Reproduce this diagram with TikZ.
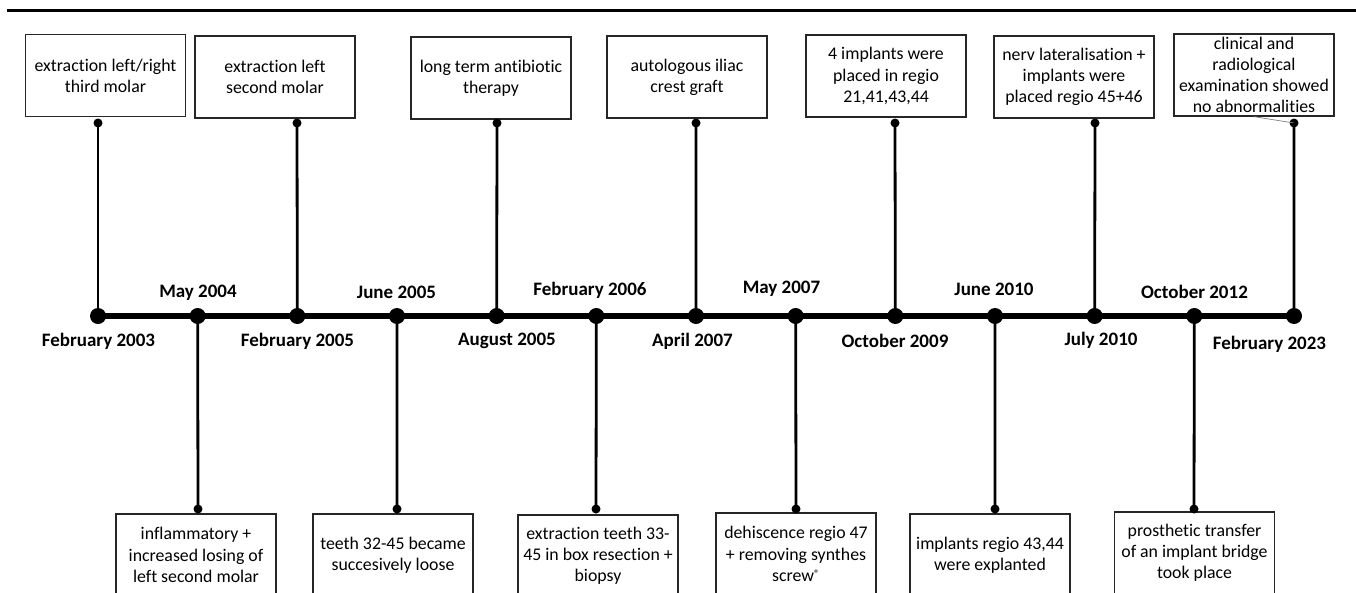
\documentclass[tikz,border=0pt]{standalone}
\usepackage{fontspec}
\setmainfont[Ligatures={NoCommon}]{Carlito}
\begin{document}
\begin{tikzpicture}[x=1pt,y=-1pt,
  evbox/.style={draw=black!85, line width=1.3pt, minimum width=160pt, minimum height=82pt, align=center, inner sep=2pt, font=\fontsize{17.8}{21.2}\selectfont},
  datelbl/.style={font=\fontsize{19}{22}\selectfont\bfseries, inner sep=0pt},
  bigdot/.style={circle, fill=black, inner sep=0pt, minimum size=16pt},
  smalldot/.style={circle, fill=black, inner sep=0pt, minimum size=9pt},
  tline/.style={line width=5.5pt},
  vline/.style={line width=2.8pt}]
\useasboundingbox (0,0) rectangle (1356,592);
\clip (0,0) rectangle (1356,592);
\fill[white] (0,0) rectangle (1356,592);
% top rule
\coordinate (r1) at (7,10.7);
\coordinate (r2) at (1356,10.7);
\draw[line width=3.3pt] (r1) -- (r2);
% timeline dots
\foreach \i in {1,...,13} {
  \node[bigdot] (t\i) at ({98+(\i-1)*99.667},316) {};
}
\draw[tline] (t1.center) -- (t13.center);
% top boxes
\node[evbox] (b1) at (105.5,75.5) {extraction left/right\\third molar};
\node[evbox] (b2) at (275,77) {extraction left\\second molar};
\node[evbox] (b3) at (491,78) {long term antibiotic\\therapy};
\node[evbox] (b4) at (687,77) {autologous iliac\\crest graft};
\node[evbox] (b5) at (886,76) {4 implants were\\placed in regio\\21,41,43,44};
\node[evbox] (b6) at (1074,77) {nerv lateralisation +\\implants were\\placed regio 45+46};
\node[evbox] (b7) at (1254,75) {clinical and\\radiological\\examination showed\\no abnormalities};
% top small dots
\node[smalldot] (s1) at (98,123) {};
\node[smalldot] (s3) at (297,123) {};
\node[smalldot] (s5) at (497,123) {};
\node[smalldot] (s7) at (696,123) {};
\node[smalldot] (s9) at (895,123) {};
\node[smalldot] (s11) at (1095,123) {};
\node[smalldot] (s13) at (1294,123) {};
\draw[gray, line width=0.7pt] (b7.south) -- (s13.center);
\foreach \i in {1,3,5,7,9,11,13} { \draw[vline] (s\i.center) -- (t\i.center); }
% bottom boxes
\node[evbox] (c2) at (196,555) {inflammatory +\\increased losing of\\left second molar};
\node[evbox] (c4) at (393,555) {teeth 32-45 became\\succesively loose};
\node[evbox] (c6) at (598,556) {extraction teeth 33-\\45 in box resection +\\biopsy};
\node[evbox] (c8) at (796,554) {dehiscence regio 47\\+ removing synthes\\screw{\fontsize{11}{11}\selectfont\raisebox{4pt}{®}}};
\node[evbox] (c10) at (990,555) {implants regio 43,44\\were explanted};
\node[evbox] (c12) at (1194.5,553) {prosthetic transfer\\of an implant bridge\\took place};
% bottom small dots
\node[smalldot] (s2) at (198,509) {};
\node[smalldot] (s4) at (397,509) {};
\node[smalldot] (s6) at (596,509) {};
\node[smalldot] (s8) at (796,509) {};
\node[smalldot] (s10) at (995,509) {};
\node[smalldot] (s12) at (1194,509) {};
\foreach \i in {2,4,6,8,10,12} { \draw[vline] (t\i.center) -- (s\i.center); }
% date labels
\node[datelbl] (d1) at (98.5,341.7) {February 2003};
\node[datelbl] (d2) at (198,292.5) {May 2004};
\node[datelbl] (d3) at (297.5,341.7) {February 2005};
\node[datelbl] (d4) at (396.5,292.5) {June 2005};
\node[datelbl] (d5) at (507,341) {August 2005};
\node[datelbl] (d6) at (590,290.7) {February 2006};
\node[datelbl] (d7) at (692.5,341) {April 2007};
\node[datelbl] (d8) at (781.5,289) {May 2007};
\node[datelbl] (d9) at (895,341) {October 2009};
\node[datelbl] (d10) at (994,289) {June 2010};
\node[datelbl] (d11) at (1101,340.7) {July 2010};
\node[datelbl] (d12) at (1194.5,292) {October 2012};
\node[datelbl] (d13) at (1269.5,344) {February 2023};
\end{tikzpicture}
\end{document}
